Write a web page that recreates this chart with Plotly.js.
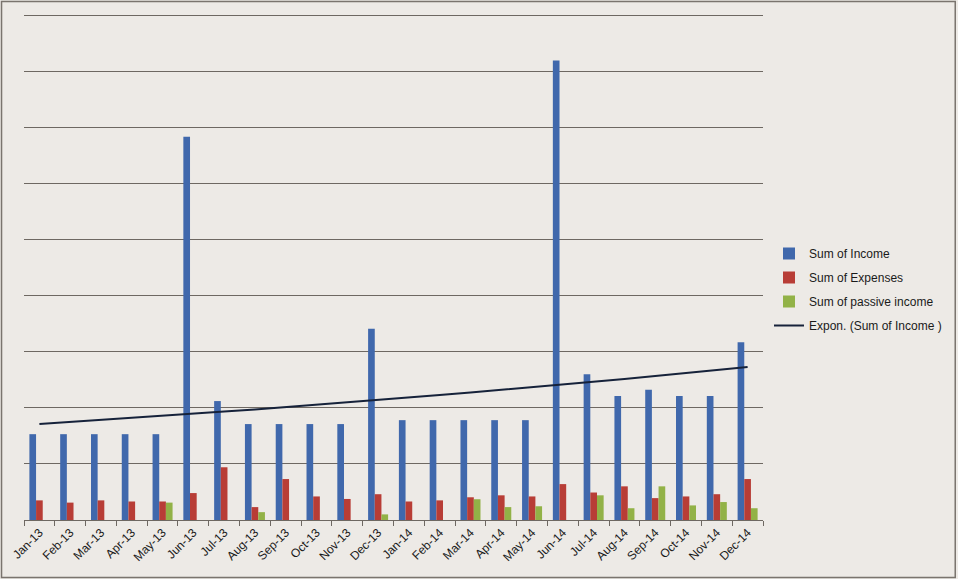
<!DOCTYPE html>
<html>
<head>
<meta charset="utf-8">
<script src="https://cdn.plot.ly/plotly-3.0.1.min.js"></script>
<style>
html,body{margin:0;padding:0;background:#EDEAE6;}
#chart{width:958px;height:579px;}
</style>
</head>
<body>
<div id="chart"></div>
<script>
const months = ["Jan-13","Feb-13","Mar-13","Apr-13","May-13","Jun-13","Jul-13","Aug-13","Sep-13","Oct-13","Nov-13","Dec-13",
                "Jan-14","Feb-14","Mar-14","Apr-14","May-14","Jun-14","Jul-14","Aug-14","Sep-14","Oct-14","Nov-14","Dec-14"];
const income   = [1530,1530,1530,1530,1530,6830,2120,1710,1710,1710,1710,3410,
                  1780,1780,1780,1780,1780,8190,2600,2210,2320,2210,2210,3170];
const expenses = [350,310,350,330,330,480,940,230,730,420,375,460,
                  330,350,405,440,420,640,490,600,390,420,460,730];
const passive  = [0,0,0,0,310,0,0,140,0,0,0,100,
                  0,0,370,230,245,0,440,210,600,260,320,210];

// Exponential trendline (least squares on ln y), like Excel's "Expon." trendline
function expFit(ys){
  const n = ys.length;
  const xs = ys.map((_, i) => i + 1);
  const ly = ys.map(v => Math.log(v));
  const mx = xs.reduce((a,b)=>a+b,0)/n;
  const my = ly.reduce((a,b)=>a+b,0)/n;
  let sxy = 0, sxx = 0;
  for (let i = 0; i < n; i++){ sxy += (xs[i]-mx)*(ly[i]-my); sxx += (xs[i]-mx)*(xs[i]-mx); }
  const b = sxy/sxx, a = my - b*mx;
  return xs.map(x => Math.exp(a + b*x));
}
const trend = expFit(income);

const W = 958, H = 579;
const M = {l:24, r:194, t:14, b:59};
const pw = W - M.l - M.r, ph = H - M.t - M.b;
const px = x => (x - M.l)/pw;
const py = y => (H - M.b - y)/ph;

const txtFont = {family:"Liberation Sans, Arial, sans-serif", size:12, color:"#1a1a1a"};

const data = [
  {type:"bar", name:"Sum of Income", x:months, y:income, marker:{color:"#4068AC"}, legendgroup:"a"},
  {type:"bar", name:"Sum of Expenses", x:months, y:expenses, marker:{color:"#B83D36"}, legendgroup:"b"},
  {type:"bar", name:"Sum of passive income", x:months, y:passive, marker:{color:"#92B247"}, legendgroup:"c"},
  {type:"scatter", mode:"lines", name:"Expon. (Sum of Income )", x:months, y:trend,
   line:{color:"#16223A", width:2}, legendgroup:"d"}
];

const layout = {
  width: W, height: H,
  margin: M,
  paper_bgcolor:"#EDEAE6",
  plot_bgcolor:"#EDEAE6",
  barmode:"group",
  bargap:0.35,
  bargroupgap:0,
  showlegend:true,
  legend:{x:px(769), y:py(239), xanchor:"left", yanchor:"top", font:txtFont,
          bgcolor:"rgba(0,0,0,0)", tracegroupgap:5, traceorder:"grouped"},
  xaxis:{type:"category", tickson:"boundaries", ticks:"outside", ticklen:5, tickcolor:"#6E6862",
         showline:true, linecolor:"#6E6862", linewidth:1, tickangle:-45, tickfont:txtFont,
         showgrid:false, zeroline:false, fixedrange:true},
  yaxis:{range:[0,9020], dtick:1000, showticklabels:false, ticks:"", showgrid:true,
         gridcolor:"#6E6862", gridwidth:1, zeroline:false, showline:false, fixedrange:true},
  shapes:[{type:"rect", xref:"paper", yref:"paper",
           x0:px(1.5), x1:px(956.5), y0:py(577.5), y1:py(1.5),
           line:{color:"#7A746E", width:1.5}, fillcolor:"rgba(0,0,0,0)", layer:"below"}]
};

Plotly.newPlot("chart", data, layout, {displayModeBar:false, staticPlot:true});
</script>
</body>
</html>
